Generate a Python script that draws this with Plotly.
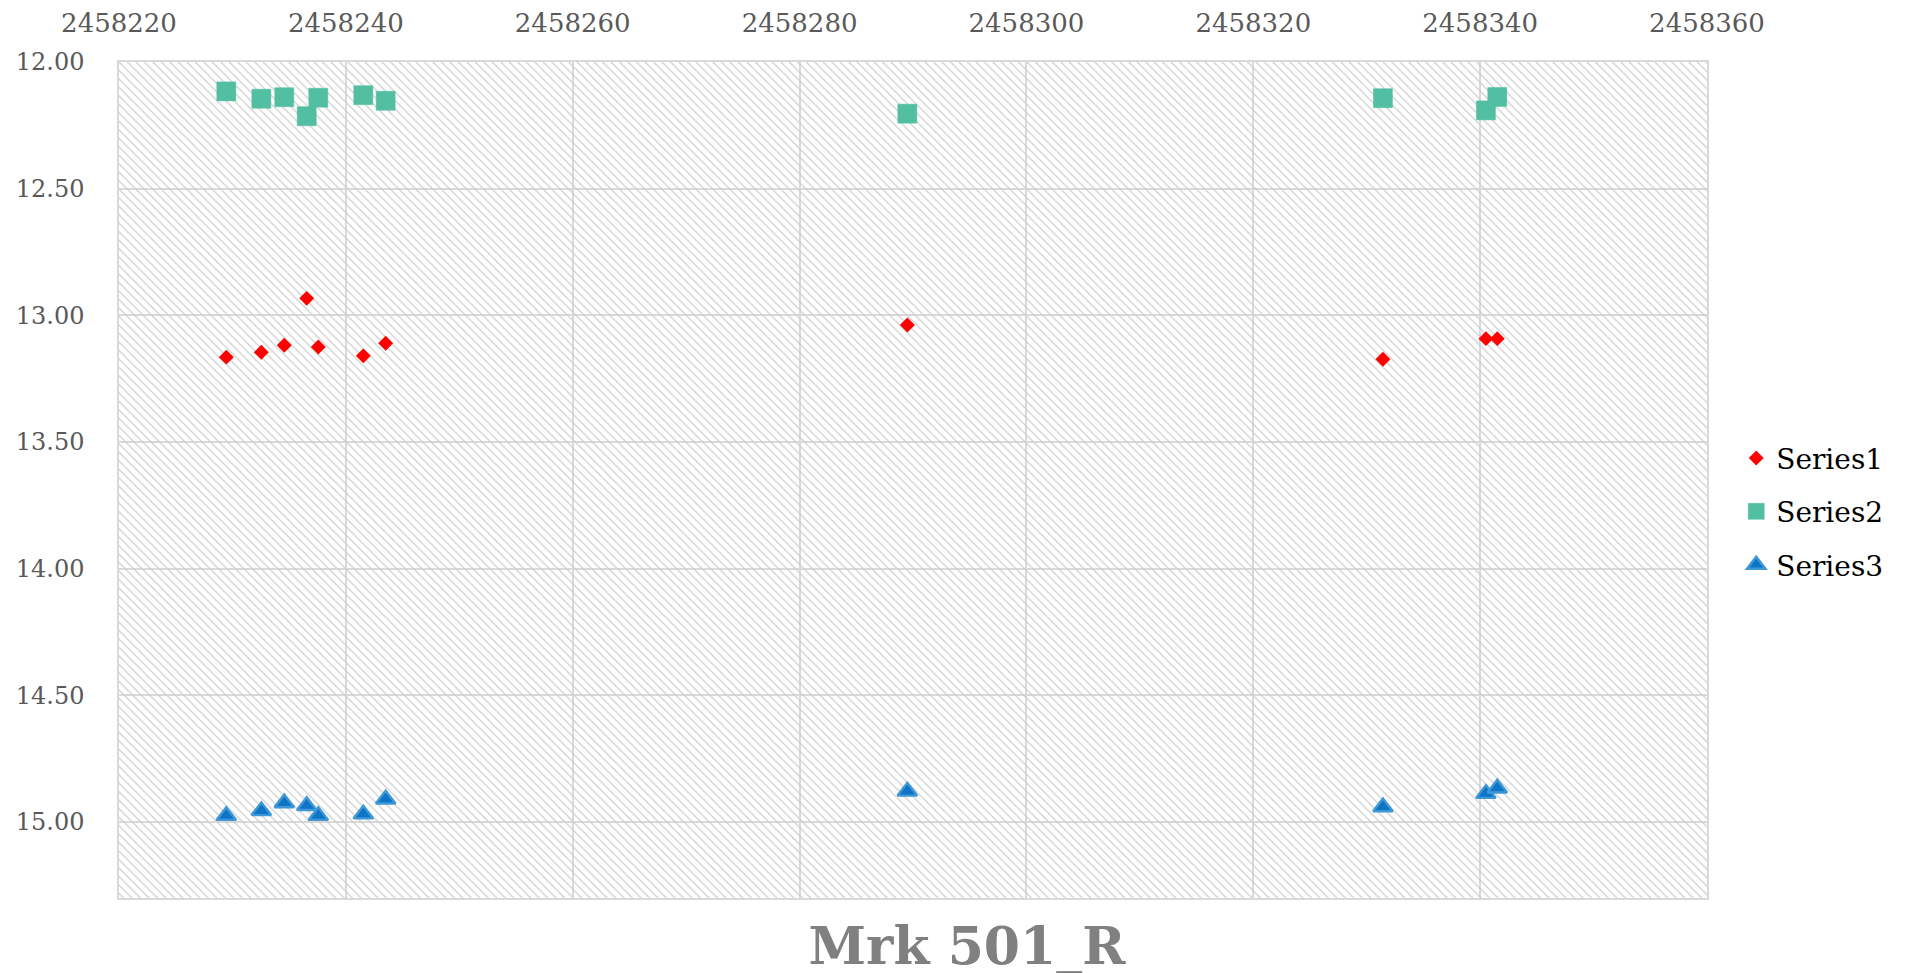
import plotly.graph_objects as go

# ---- data ----
jd_s1 = [2458229.46, 2458232.55, 2458234.57, 2458236.55, 2458237.57, 2458241.54, 2458243.51,
         2458289.50, 2458331.43, 2458340.51, 2458341.51]
series1 = [13.165, 13.146, 13.118, 12.933, 13.125, 13.160, 13.110,
           13.038, 13.173, 13.092, 13.092]
series2 = [12.116, 12.145, 12.139, 12.214, 12.141, 12.131, 12.153,
           12.204, 12.143, 12.191, 12.138]
series3 = [14.975, 14.956, 14.925, 14.936, 14.975, 14.969, 14.910,
           14.879, 14.941, 14.888, 14.867]
series_names = ["Series1", "Series2", "Series3"]
title_text = "Mrk 501_R"

X_RANGE = [2458220, 2458360]
Y_RANGE = [15.3, 12.0]   # reversed: bottom, top

FONT = "DejaVu Serif, Liberation Serif, serif"

fig = go.Figure()

# hatched plot-area background
fig.add_trace(go.Scatter(
    x=[X_RANGE[0], X_RANGE[1], X_RANGE[1], X_RANGE[0], X_RANGE[0]],
    y=[Y_RANGE[1], Y_RANGE[1], Y_RANGE[0], Y_RANGE[0], Y_RANGE[1]],
    mode="none", fill="toself", fillcolor="rgba(0,0,0,0)",
    fillpattern=dict(shape="\\", fgcolor="#cdcdcd", bgcolor="rgba(0,0,0,0)",
                     size=6, solidity=0.2, fillmode="replace"),
    showlegend=False, hoverinfo="skip"))

fig.add_trace(go.Scatter(
    x=jd_s1, y=series1, mode="markers", name=series_names[0], legendgroup="a",
    marker=dict(symbol="diamond", size=11.5, color="#ff0000")))
fig.add_trace(go.Scatter(
    x=jd_s1, y=series2, mode="markers", name=series_names[1], legendgroup="b",
    marker=dict(symbol="square", size=19, color="#52bfa3",
                line=dict(color="#52bfa3", width=0.5))))
fig.add_trace(go.Scatter(
    x=jd_s1, y=series3, mode="markers", name=series_names[2], legendgroup="c",
    marker=dict(symbol="triangle-up", size=17, color="#0e74c6",
                line=dict(color="#3e98d6", width=2.4))))

fig.update_layout(
    width=1928, height=973,
    margin=dict(l=111, r=229, t=54, b=83, autoexpand=False),
    paper_bgcolor="white", plot_bgcolor="white",
    font=dict(family=FONT, color="#595959"),
    title=dict(text="<b>" + title_text + "</b>", x=0.4974, xref="container", xanchor="center",
               y=0.036, yref="container", yanchor="middle",
               font=dict(family=FONT, size=52, color="#808080")),
    legend=dict(x=1.0184, xanchor="left", y=0.462, yanchor="middle",
                font=dict(family=FONT, size=28, color="#000000"),
                tracegroupgap=14, traceorder="grouped", bgcolor="rgba(0,0,0,0)"),
    showlegend=True,
)

fig.update_xaxes(
    range=X_RANGE, side="top", dtick=20, tick0=2458220, tickformat="d",
    showgrid=True, gridcolor="#d9d9d9", gridwidth=1.5,
    showline=True, linecolor="#d9d9d9", linewidth=1.5, mirror=True,
    ticks="", ticklabelstandoff=18, zeroline=False, automargin=False,
    tickfont=dict(family=FONT, size=26, color="#595959"))
fig.update_yaxes(
    range=Y_RANGE, dtick=0.5, tick0=12.0, tickformat=".2f",
    showgrid=True, gridcolor="#d9d9d9", gridwidth=1.5,
    showline=True, linecolor="#d9d9d9", linewidth=1.5, mirror=True,
    ticks="", ticklabelstandoff=28, zeroline=False, automargin=False,
    tickfont=dict(family=FONT, size=24, color="#595959"))

fig.write_html("out.html")
